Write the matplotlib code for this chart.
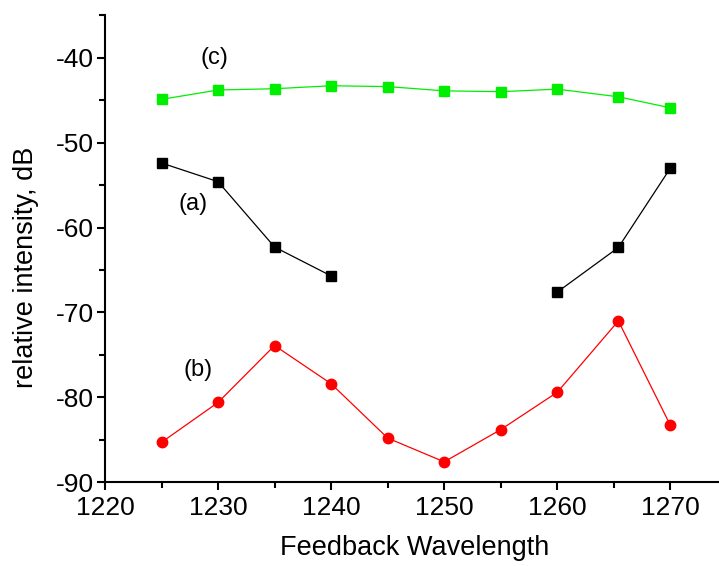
import matplotlib
matplotlib.use('Agg')
import matplotlib.pyplot as plt
from matplotlib.ticker import MultipleLocator

plt.rcParams['font.family'] = ['Liberation Sans', 'DejaVu Sans']
plt.rcParams['axes.unicode_minus'] = False

# (a) black squares, two separate branches
wl_a1 = [1225, 1230, 1235, 1240]
db_a1 = [-52.4, -54.6, -62.3, -65.7]
wl_a2 = [1260, 1265.4, 1270]
db_a2 = [-67.6, -62.35, -53.0]

# (b) red circles
wl_b = [1225, 1230, 1235, 1240, 1245, 1250, 1255, 1260, 1265.4, 1270]
db_b = [-85.3, -80.6, -73.9, -78.4, -84.8, -87.6, -83.8, -79.4, -71.0, -83.3]

# (c) green squares
wl_c = [1225, 1230, 1235, 1240, 1245, 1250, 1255, 1260, 1265.4, 1270]
db_c = [-44.9, -43.8, -43.65, -43.3, -43.4, -43.9, -44.0, -43.7, -44.6, -45.9]

fig = plt.figure(figsize=(7.19, 5.66), dpi=100)
ax = fig.add_axes([0.146, 0.148, 0.854, 0.825])

ax.plot(wl_c, db_c, color='#00ee00', lw=0.9, marker='s', ms=7.2,
        markeredgecolor='#00ee00')
ax.plot(wl_a1, db_a1, color='black', lw=0.9, marker='s', ms=7.2)
ax.plot(wl_a2, db_a2, color='black', lw=0.9, marker='s', ms=7.2)
ax.plot(wl_b, db_b, color='red', lw=0.9, marker='o', ms=7.5)

ax.text(1229.7, -40, '(c)', fontsize=17, ha='center', va='center')
ax.text(1227.8, -57.2, '(a)', fontsize=17, ha='center', va='center')
ax.text(1228.2, -76.8, '(b)', fontsize=17, ha='center', va='center')

ax.set_xlim(1220, 1274.3)
ax.set_ylim(-90, -35)
ax.xaxis.set_major_locator(MultipleLocator(10))
ax.xaxis.set_minor_locator(MultipleLocator(5))
ax.yaxis.set_major_locator(MultipleLocator(10))
ax.yaxis.set_minor_locator(MultipleLocator(5))

for s in ['top', 'right']:
    ax.spines[s].set_visible(False)
for s in ['left', 'bottom']:
    ax.spines[s].set_linewidth(1.5)

ax.tick_params(which='major', direction='out', length=6, width=1.5, labelsize=19)
ax.tick_params(axis='x', which='major', pad=4)
ax.tick_params(axis='y', which='major', pad=2)
ax.tick_params(which='minor', direction='out', length=4, width=1.5)

ax.set_xlabel('Feedback Wavelength', fontsize=19.5, labelpad=11, x=0.505)
ax.set_ylabel('relative intensity, dB', fontsize=19.5, labelpad=12, y=0.46)

fig.savefig('out.png', dpi=100)
